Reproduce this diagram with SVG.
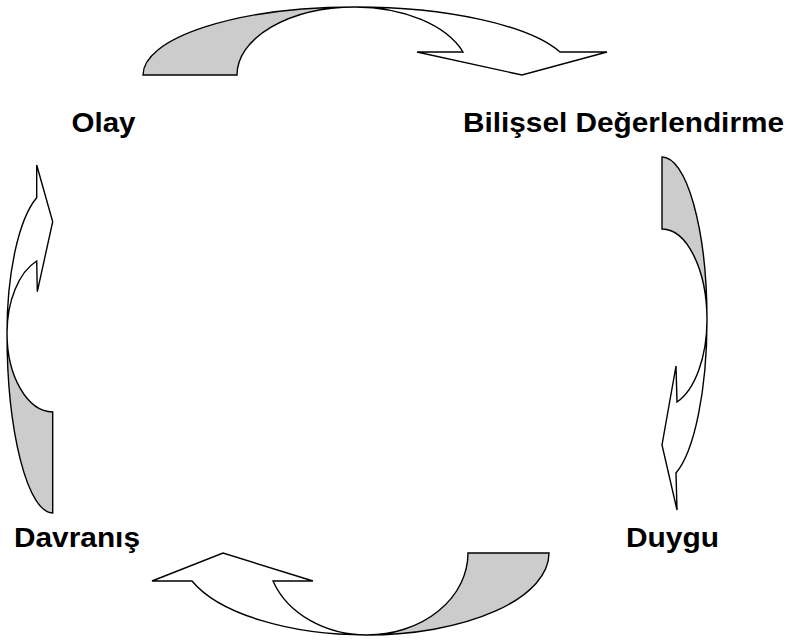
<svg xmlns="http://www.w3.org/2000/svg" width="791" height="641" viewBox="0 0 791 641">
<style>
.lbl{font-family:"Liberation Sans",Arial,sans-serif;font-weight:bold;font-size:27px;fill:#000}
.back{fill:#cccccc;stroke:#000;stroke-width:1.4;stroke-linejoin:miter}
.front{fill:#ffffff;stroke:#000;stroke-width:1.4;stroke-linejoin:miter}
</style>
<rect width="791" height="641" fill="#fff"/>
<g id="connectors">
<g id="arrow-top">
<path class="back" d="M143,75 A212,68 0 0 1 355,7 A118,68 0 0 0 237,75 Z"/>
<path class="front" d="M355,7 A218,68 0 0 1 560,52 L607,52 L522,75 L417,52 L463,52 A115,68 0 0 0 355,7 Z"/>
</g>
<g id="arrow-right">
<path class="back" d="M662,157 L662,229 A45,91 0 0 1 707,320 A45,163 0 0 0 662,157 Z"/>
<path class="front" d="M707,320 A45,161 0 0 1 676,473 L677,510 L662,445 L676,366 L677,402 A45,87 0 0 0 707,320 Z"/>
</g>
<g id="arrow-bottom">
<path class="back" d="M549,553 L468,553 A101,82 0 0 1 367,635 A182,82 0 0 0 549,553 Z"/>
<path class="front" d="M367,635 A186,82 0 0 1 192,581 L152,581 L223,553 L313,581 L273,581 A100,82 0 0 0 367,635 Z"/>
</g>
<g id="arrow-left">
<path class="back" d="M52.7,412 L52.7,513 A46,180 0 0 1 7,333 A46,79 0 0 0 52.7,412 Z"/>
<path class="front" d="M7,333 A45.7,144.4 0 0 1 36.7,197.7 L36.7,165 L52.7,221.7 L37.3,291.7 L36.7,261 A45.7,76.8 0 0 0 7,333 Z"/>
</g>
</g>
<g id="node-olay"><text class="lbl" x="71.5" y="132" textLength="64" lengthAdjust="spacingAndGlyphs">Olay</text></g>
<g id="node-bilissel"><text class="lbl" x="463" y="132" textLength="321" lengthAdjust="spacingAndGlyphs">Bilişsel Değerlendirme</text></g>
<g id="node-davranis"><text class="lbl" x="14" y="547" textLength="126" lengthAdjust="spacingAndGlyphs">Davranış</text></g>
<g id="node-duygu"><text class="lbl" x="626" y="547" textLength="93" lengthAdjust="spacingAndGlyphs">Duygu</text></g>
</svg>
